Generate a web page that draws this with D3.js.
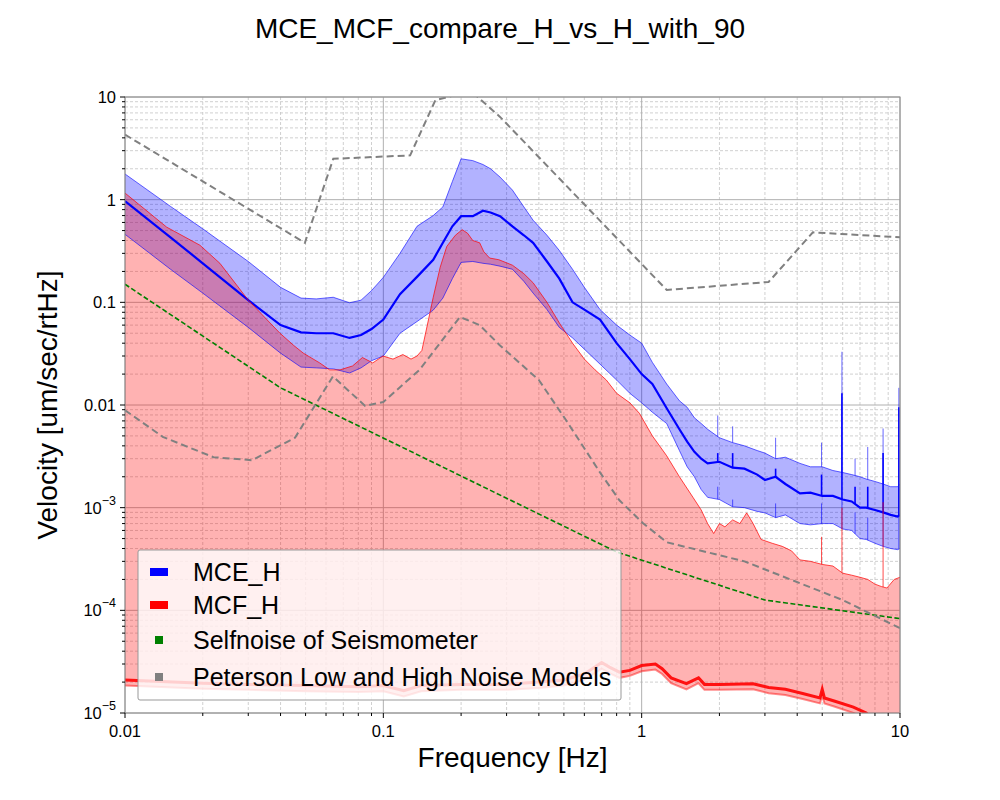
<!DOCTYPE html>
<html>
<head>
<meta charset="utf-8">
<script src="https://cdn.jsdelivr.net/npm/d3@7"></script>
<style>
  body { margin: 0; background: #fff; }
  svg { font-family: "Liberation Sans", Arial, sans-serif; }
</style>
</head>
<body>
<svg id="chart" width="1000" height="800"></svg>
<script>
// MCE_H band (blue): frequency [Hz], lower / median / upper [um/sec/rtHz]
const mceFreq = [0.01, 0.015, 0.02, 0.03, 0.04, 0.048, 0.055, 0.064, 0.074, 0.082, 0.09, 0.1, 0.116, 0.135, 0.156, 0.17, 0.185, 0.2, 0.222, 0.243, 0.26, 0.283, 0.316, 0.35, 0.38, 0.43, 0.48, 0.54, 0.6, 0.69, 0.8, 0.9, 1.0, 1.1, 1.25, 1.4, 1.5, 1.6, 1.7, 1.8, 2.0, 2.25, 2.5, 2.8, 3.0, 3.3, 3.6, 4.1, 4.5, 5.0, 5.5, 6.0, 6.5, 7.0, 7.4, 8.0, 8.6, 9.2, 9.8, 10];
const mceHigh = [1.78, 0.86, 0.52, 0.25, 0.14, 0.11, 0.108, 0.112, 0.099, 0.105, 0.13, 0.175, 0.3, 0.55, 0.7, 0.85, 1.5, 2.5, 2.4, 2.2, 2.0, 1.66, 1.24, 0.85, 0.63, 0.45, 0.32, 0.21, 0.14, 0.085, 0.06, 0.048, 0.04, 0.026, 0.016, 0.011, 0.0095, 0.0075, 0.0066, 0.0058, 0.0048, 0.0043, 0.0040, 0.0036, 0.0034, 0.0030, 0.0031, 0.0027, 0.0025, 0.0025, 0.0023, 0.0022, 0.0021, 0.0020, 0.0019, 0.0018, 0.0017, 0.0016, 0.0016, 0.0017];
const mceMed = [0.97, 0.43, 0.24, 0.105, 0.06, 0.051, 0.05, 0.05, 0.045, 0.048, 0.055, 0.068, 0.12, 0.177, 0.26, 0.38, 0.55, 0.69, 0.69, 0.78, 0.75, 0.69, 0.55, 0.45, 0.38, 0.25, 0.17, 0.1, 0.085, 0.068, 0.04, 0.028, 0.02, 0.016, 0.0093, 0.0058, 0.0044, 0.0035, 0.0030, 0.0027, 0.0028, 0.00245, 0.0024, 0.0021, 0.00186, 0.0020, 0.0017, 0.00138, 0.0014, 0.0013, 0.0013, 0.0012, 0.00115, 0.0010, 0.0010, 0.00095, 0.0009, 0.00085, 0.00082, 0.00085];
const mceLow = [0.46, 0.21, 0.123, 0.057, 0.032, 0.0234, 0.023, 0.0225, 0.0205, 0.023, 0.027, 0.03, 0.05, 0.065, 0.084, 0.11, 0.17, 0.245, 0.25, 0.24, 0.235, 0.225, 0.21, 0.16, 0.123, 0.085, 0.057, 0.045, 0.035, 0.025, 0.0175, 0.013, 0.0105, 0.0085, 0.0066, 0.0036, 0.0025, 0.002, 0.0015, 0.00126, 0.0012, 0.00102, 0.0010, 0.00092, 0.00089, 0.0008, 0.00085, 0.0007, 0.00068, 0.0007, 0.0007, 0.00062, 0.0006, 0.0005, 0.00049, 0.00045, 0.00042, 0.0004, 0.00039, 0.0004];
// narrow lines in the MCE band
const mceSpikeFreq = [1.97, 2.25, 3.3, 4.97, 5.96, 6.7, 7.5, 8.6, 9.9];
const mceSpikeHigh = [0.0079, 0.0062, 0.0048, 0.0043, 0.033, 0.0030, 0.0039, 0.0059, 0.0147];
const mceSpikeMed = [0.0034, 0.0034, 0.0024, 0.0021, 0.013, 0.0016, 0.0016, 0.0034, 0.0095];
const mceSpikeLow = [0.0016, 0.0012, 0.0011, 0.0011, 0.0012, 0.0009, 0.0008, 0.0009, 0.0016];

// MCF_H band (red)
const mcfFreq = [0.01, 0.0145, 0.0195, 0.0233, 0.03, 0.035, 0.0398, 0.045, 0.049, 0.0567, 0.062, 0.068, 0.076, 0.083, 0.091, 0.0996, 0.109, 0.119, 0.128, 0.135, 0.141, 0.148, 0.156, 0.166, 0.176, 0.19, 0.202, 0.212, 0.222, 0.236, 0.245, 0.258, 0.28, 0.316, 0.35, 0.38, 0.43, 0.48, 0.54, 0.6, 0.66, 0.73, 0.8, 0.9, 0.98, 1.1, 1.25, 1.4, 1.58, 1.7, 1.8, 1.9, 2.0, 2.1, 2.25, 2.4, 2.55, 2.7, 2.9, 3.2, 3.5, 3.8, 4.1, 4.5, 5.0, 5.5, 6.0, 6.5, 7.0, 7.5, 8.0, 8.5, 8.9, 9.5, 10];
const mcfHigh = [1.16, 0.54, 0.36, 0.24, 0.105, 0.07, 0.05, 0.038, 0.032, 0.0257, 0.022, 0.022, 0.024, 0.029, 0.0257, 0.030, 0.028, 0.031, 0.028, 0.030, 0.034, 0.06, 0.112, 0.22, 0.35, 0.45, 0.51, 0.47, 0.40, 0.38, 0.31, 0.27, 0.26, 0.23, 0.19, 0.155, 0.1, 0.063, 0.04, 0.028, 0.022, 0.0175, 0.013, 0.0105, 0.0083, 0.005, 0.0032, 0.002, 0.00126, 0.00095, 0.0007, 0.00056, 0.0007, 0.00065, 0.00076, 0.0007, 0.00089, 0.0007, 0.00049, 0.00045, 0.00042, 0.00038, 0.00031, 0.0003, 0.00028, 0.00027, 0.00023, 0.00022, 0.00021, 0.0002, 0.00018, 0.00017, 0.000165, 0.0002, 0.00021];
const mcfBottomFreq = [0.01, 0.02, 0.03, 0.05, 0.08, 0.1, 0.12, 0.14, 0.2, 0.3, 0.4, 0.5, 0.6, 0.7, 0.75, 0.82, 0.9, 1.0, 1.13, 1.2, 1.3, 1.49, 1.66, 1.75, 2.0, 2.7, 3.1, 3.6, 4.2, 4.9, 5.0, 5.1, 5.6, 6.6, 7.4, 8.0, 10];
const mcfMed = [2.1e-5, 1.95e-5, 1.9e-5, 1.85e-5, 1.8e-5, 1.85e-5, 1.65e-5, 1.85e-5, 1.9e-5, 1.9e-5, 2.0e-5, 2.1e-5, 2.4e-5, 3.1e-5, 2.8e-5, 2.5e-5, 2.6e-5, 2.9e-5, 3.0e-5, 2.7e-5, 2.2e-5, 1.93e-5, 2.2e-5, 1.9e-5, 1.9e-5, 1.93e-5, 1.77e-5, 1.7e-5, 1.55e-5, 1.4e-5, 1.7e-5, 1.4e-5, 1.3e-5, 1.14e-5, 1.0e-5, 8e-6, 5e-6];
const mcfLow = [1.85e-5, 1.72e-5, 1.68e-5, 1.63e-5, 1.6e-5, 1.63e-5, 1.45e-5, 1.63e-5, 1.68e-5, 1.68e-5, 1.75e-5, 1.85e-5, 2.1e-5, 2.7e-5, 2.45e-5, 2.2e-5, 2.3e-5, 2.55e-5, 2.65e-5, 2.4e-5, 1.95e-5, 1.7e-5, 1.95e-5, 1.68e-5, 1.68e-5, 1.7e-5, 1.56e-5, 1.5e-5, 1.37e-5, 1.24e-5, 1.5e-5, 1.24e-5, 1.15e-5, 1.0e-5, 8.8e-6, 7e-6, 4.4e-6];
const mcfSpikeFreq = [4.97, 5.96, 8.6];
const mcfSpikeTop = [0.00052, 0.0010, 0.00113];

// selfnoise of seismometer (green dashed)
const selfFreq = [0.01, 0.04, 0.8, 3, 10];
const selfVal = [0.15, 0.0147, 0.00037, 0.000126, 0.000083];

// Peterson models (grey dashed)
const nhnmFreq = [0.01, 0.0497, 0.064, 0.127, 0.159, 0.186, 0.229, 0.283, 1.25, 3.1, 4.6, 10];
const nhnmVal = [4.3, 0.38, 2.5, 2.7, 9.3, 10.3, 10.3, 6.4, 0.132, 0.158, 0.48, 0.43];
const nlnmFreq = [0.01, 0.014, 0.022, 0.031, 0.0455, 0.0638, 0.085, 0.1, 0.138, 0.198, 0.236, 0.283, 0.40, 0.51, 0.69, 0.82, 1.01, 1.25, 2.5, 6.0, 10];
const nlnmVal = [0.0089, 0.0049, 0.0031, 0.0029, 0.0048, 0.019, 0.0098, 0.0107, 0.022, 0.072, 0.060, 0.038, 0.0175, 0.0071, 0.0022, 0.00118, 0.00071, 0.00046, 0.0003, 0.000126, 0.000067];

const legendNames = ["MCE_H", "MCF_H", "Selfnoise of Seismometer", "Peterson Low and High Noise Models"];
const legendColors = ["#0000ff", "#ff0000", "#008000", "#808080"];
const yTickVals = [10, 1, 0.1, 0.01, 1e-3, 1e-4, 1e-5];
const xTickVals = [0.01, 0.1, 1, 10];
const xTickLabels = ["0.01", "0.1", "1", "10"];

const svg = d3.select("#chart");
const L = 125, R = 900, T = 97, B = 713;
const x = d3.scaleLog().domain([0.01, 10]).range([L, R]);
const y = d3.scaleLog().domain([1e-5, 10]).range([B, T]);

svg.append("defs").append("clipPath").attr("id", "clip")
  .append("rect").attr("x", L).attr("y", T).attr("width", R - L).attr("height", B - T);

// grid
const grid = svg.append("g");
const minorX = [], minorY = [];
for (let e = -2; e < 1; e++) for (let m = 2; m < 10; m++) minorX.push(m * Math.pow(10, e));
for (let e = -5; e < 1; e++) for (let m = 2; m < 10; m++) minorY.push(m * Math.pow(10, e));
grid.selectAll(".mx").data(minorX).enter().append("line")
  .attr("x1", d => x(d)).attr("x2", d => x(d)).attr("y1", T).attr("y2", B)
  .attr("stroke", "#c4c4c4").attr("stroke-width", 0.8).attr("stroke-dasharray", "3,2");
grid.selectAll(".my").data(minorY).enter().append("line")
  .attr("y1", d => y(d)).attr("y2", d => y(d)).attr("x1", L).attr("x2", R)
  .attr("stroke", "#c4c4c4").attr("stroke-width", 0.8).attr("stroke-dasharray", "3,2");
grid.selectAll(".Mx").data(xTickVals).enter().append("line")
  .attr("x1", d => x(d)).attr("x2", d => x(d)).attr("y1", T).attr("y2", B)
  .attr("stroke", "#b0b0b0").attr("stroke-width", 1);
grid.selectAll(".My").data(yTickVals).enter().append("line")
  .attr("y1", d => y(d)).attr("y2", d => y(d)).attr("x1", L).attr("x2", R)
  .attr("stroke", "#b0b0b0").attr("stroke-width", 1);

const plot = svg.append("g").attr("clip-path", "url(#clip)");
const line = d3.line().x(d => x(d[0])).y(d => y(d[1]));
const zip = (f, v) => f.map((d, i) => [d, v[i]]);

// value of a series at f (log-log), used to hang the spikes from the band
function at(fr, vals, f) {
  const i = Math.max(1, d3.bisectLeft(fr, f));
  const t = (Math.log(f) - Math.log(fr[i - 1])) / (Math.log(fr[i]) - Math.log(fr[i - 1]));
  return Math.exp(Math.log(vals[i - 1]) + t * (Math.log(vals[i]) - Math.log(vals[i - 1])));
}

// blue band
plot.append("path")
  .attr("d", d3.area().x((d, i) => x(d)).y0((d, i) => y(mceLow[i])).y1((d, i) => y(mceHigh[i]))(mceFreq))
  .attr("fill", "#0000ff").attr("fill-opacity", 0.3);

// red band: from the lower edge (bottom light line) to the upper edge
const redPts = mcfFreq.map((f, i) => [f, mcfHigh[i]]);
const redBottom = mcfBottomFreq.map((f, i) => [f, mcfLow[i]]).reverse();
plot.append("path")
  .attr("d", line(redPts.concat(redBottom)) + "Z")
  .attr("fill", "#ff0000").attr("fill-opacity", 0.3);

// blue edges + median
plot.append("path").attr("d", line(zip(mceFreq, mceHigh))).attr("fill", "none")
  .attr("stroke", "#0000ff").attr("stroke-opacity", 0.6).attr("stroke-width", 1);
plot.append("path").attr("d", line(zip(mceFreq, mceLow))).attr("fill", "none")
  .attr("stroke", "#0000ff").attr("stroke-opacity", 0.6).attr("stroke-width", 1);
plot.append("path").attr("d", line(zip(mceFreq, mceMed))).attr("fill", "none")
  .attr("stroke", "#0000ff").attr("stroke-width", 2.2);

mceSpikeFreq.forEach((f, i) => {
  [[mceSpikeHigh[i], mceHigh, 0.6, 1], [mceSpikeMed[i], mceMed, 1, 1.6], [mceSpikeLow[i], mceLow, 0.6, 1]].forEach(s => {
    plot.append("line").attr("x1", x(f)).attr("x2", x(f))
      .attr("y1", y(s[0])).attr("y2", y(at(mceFreq, s[1], f)))
      .attr("stroke", "#0000ff").attr("stroke-opacity", s[2]).attr("stroke-width", s[3]);
  });
});

// red edges
plot.append("path").attr("d", line(zip(mcfFreq, mcfHigh))).attr("fill", "none")
  .attr("stroke", "#ff0000").attr("stroke-opacity", 0.7).attr("stroke-width", 1);
mcfSpikeFreq.forEach((f, i) => {
  plot.append("line").attr("x1", x(f)).attr("x2", x(f))
    .attr("y1", y(mcfSpikeTop[i])).attr("y2", y(at(mcfFreq, mcfHigh, f)))
    .attr("stroke", "#ff0000").attr("stroke-opacity", 0.7).attr("stroke-width", 1);
});
plot.append("path").attr("d", line(zip(mcfBottomFreq, mcfLow))).attr("fill", "none")
  .attr("stroke", "#ff0000").attr("stroke-opacity", 0.45).attr("stroke-width", 2);
plot.append("path").attr("d", line(zip(mcfBottomFreq, mcfMed))).attr("fill", "none")
  .attr("stroke", "#ff0000").attr("stroke-opacity", 0.9).attr("stroke-width", 3);

// reference curves
plot.append("path").attr("d", line(zip(selfFreq, selfVal))).attr("fill", "none")
  .attr("stroke", "#008000").attr("stroke-width", 1.6).attr("stroke-dasharray", "5,2.5");
[zip(nhnmFreq, nhnmVal), zip(nlnmFreq, nlnmVal)].forEach(p => {
  plot.append("path").attr("d", line(p)).attr("fill", "none")
    .attr("stroke", "#808080").attr("stroke-width", 2).attr("stroke-dasharray", "7,4");
});

// frame
svg.append("rect").attr("x", L).attr("y", T).attr("width", R - L).attr("height", B - T)
  .attr("fill", "none").attr("stroke", "#8c8c8c").attr("stroke-width", 1);

// ticks
const ax = svg.append("g").attr("font-size", 16.5).attr("fill", "#000");
svg.selectAll(".xmin").data(minorX).enter().append("line")
  .attr("x1", d => x(d)).attr("x2", d => x(d)).attr("y1", B).attr("y2", B + 3).attr("stroke", "#000");
svg.selectAll(".ymin").data(minorY).enter().append("line")
  .attr("y1", d => y(d)).attr("y2", d => y(d)).attr("x1", L).attr("x2", L - 3).attr("stroke", "#000");
svg.selectAll(".xmaj").data(xTickVals).enter().append("line")
  .attr("x1", d => x(d)).attr("x2", d => x(d)).attr("y1", B).attr("y2", B + 5).attr("stroke", "#000");
svg.selectAll(".ymaj").data(yTickVals).enter().append("line")
  .attr("y1", d => y(d)).attr("y2", d => y(d)).attr("x1", L).attr("x2", L - 5).attr("stroke", "#000");

xTickVals.forEach((v, i) => {
  ax.append("text").attr("x", x(v)).attr("y", B + 24).attr("text-anchor", "middle").text(xTickLabels[i]);
});
yTickVals.forEach(v => {
  const e = Math.round(Math.log10(v));
  const t = ax.append("text").attr("x", L - 9).attr("y", y(v) + 6).attr("text-anchor", "end");
  if (e >= -2) {
    t.text(d3.format("~g")(v));
  } else {
    t.append("tspan").text("10");
    t.append("tspan").attr("dy", -9).attr("font-size", 12.5).text("\u2212" + (-e));
  }
});

// labels
svg.append("text").attr("x", 500).attr("y", 38).attr("text-anchor", "middle")
  .attr("font-size", 28).text("MCE_MCF_compare_H_vs_H_with_90");
svg.append("text").attr("x", (L + R) / 2).attr("y", 767).attr("text-anchor", "middle")
  .attr("font-size", 28).text("Frequency [Hz]");
svg.append("text").attr("transform", `translate(57,${(T + B) / 2}) rotate(-90)`)
  .attr("text-anchor", "middle").attr("font-size", 28).text("Velocity [um/sec/rtHz]");

// legend
const lg = svg.append("g");
lg.append("rect").attr("x", 138).attr("y", 550).attr("width", 483).attr("height", 150).attr("rx", 2)
  .attr("fill", "#fff").attr("fill-opacity", 0.8).attr("stroke", "#999").attr("stroke-width", 1);
const rowY = [572, 605, 640, 677];
legendNames.forEach((n, i) => {
  if (i < 2) {
    lg.append("rect").attr("x", 150).attr("y", rowY[i] - 4).attr("width", 18).attr("height", 8).attr("fill", legendColors[i]);
  } else {
    lg.append("rect").attr("x", 155).attr("y", rowY[i] - 4).attr("width", 8).attr("height", 8).attr("fill", legendColors[i]);
  }
  lg.append("text").attr("x", 193).attr("y", rowY[i]).attr("dy", "0.35em").attr("font-size", 25).text(n);
});
</script>
</body>
</html>
